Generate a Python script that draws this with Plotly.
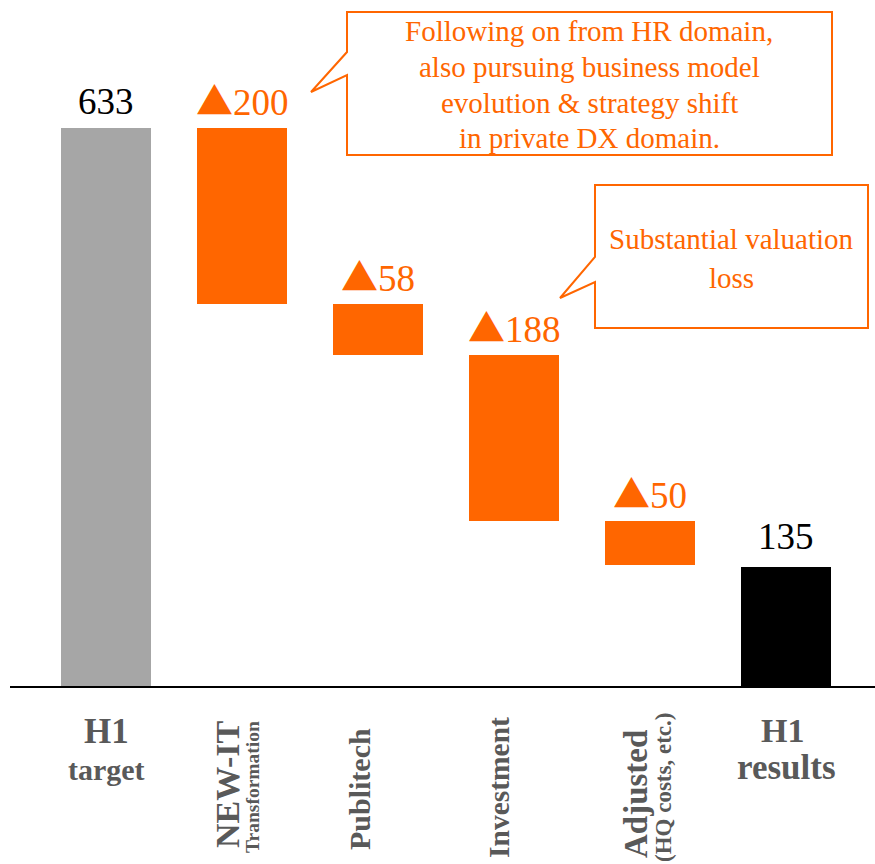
import plotly.graph_objects as go

# ---- data ----
categories = ["H1 target", "NEW-IT Transformation", "Publitech", "Investment",
              "Adjusted (HQ costs, etc.)", "H1 results"]
start_value = 633
deltas = [-200, -58, -188, -50]
end_value = 135
value_labels = ["633", "▲200", "▲58", "▲188", "▲50", "135"]
callout_lines = [
    ["Following on from HR domain,", "also pursuing business model",
     "evolution &amp; strategy shift", "in private DX domain."],
    ["Substantial valuation", "loss"],
]

# ---- derived waterfall geometry ----
bases, heights = [0], [start_value]
level = start_value
for d in deltas:
    level_new = level + d
    bases.append(level_new)
    heights.append(-d)
    level = level_new
bases.append(0)
heights.append(end_value)
tops = [b + h for b, h in zip(bases, heights)]

GRAY = "#A6A6A6"
ORANGE = "#FF6600"
BLACK = "#000000"
LABEL = "#595959"
SERIF = "Liberation Serif, Times New Roman, serif"
colors = [GRAY, ORANGE, ORANGE, ORANGE, ORANGE, BLACK]
label_colors = [BLACK, ORANGE, ORANGE, ORANGE, ORANGE, BLACK]
label_yshift = [4, 0, 0, 0, 0, 8]

W, H = 875, 864
L, R, T, B = 10, 0, 0, 178
plot_w, plot_h = W - L - R, H - T - B
px_per_unit = 558 / 633.0
y_max = plot_h / px_per_unit
x0 = -0.7059
x1 = x0 + plot_w / 136.0

xs = list(range(len(categories)))

fig = go.Figure()
fig.add_trace(go.Bar(
    x=xs, y=heights, base=bases, width=0.662,
    marker=dict(color=colors, line=dict(width=0)),
    hoverinfo="skip", showlegend=False,
))


def fmt_label(txt):
    if txt.startswith("▲"):
        return ("<span style=\"font-family:Noto Sans CJK JP\">▲</span>" + txt[1:])
    return txt


annotations = []
for i, (t, txt, c, ys) in enumerate(zip(tops, value_labels, label_colors, label_yshift)):
    annotations.append(dict(
        x=i, y=t, xref="x", yref="y", text=fmt_label(txt), showarrow=False,
        xanchor="center", yanchor="bottom", yshift=ys,
        font=dict(family=SERIF, size=37, color=c),
    ))


def px_x(px):
    return (px - L) / plot_w


def px_y(py):
    return (T + plot_h - py) / plot_h


# category labels (text, size, x-pixel center, y-pixel center, angle)
cat_specs = [
    [("<b>H1</b>", 35, 106, 731, 0), ("<b>target</b>", 30, 106, 770, 0)],
    [("<b>NEW-IT</b>", 34, 227, 784, -90), ("<b>Transformation</b>", 19.5, 252, 787, -90)],
    [("<b>Publitech</b>", 30, 359, 789, -90)],
    [("<b>Investment</b>", 29.5, 499, 788, -90)],
    [("<b>Adjusted</b>", 33, 636, 794, -90), ("<b>(HQ costs, etc.)</b>", 23, 664, 788, -90)],
    [("<b>H1</b>", 34, 782, 730, 0), ("<b>results</b>", 35, 786, 767, 0)],
]
for specs in cat_specs:
    for txt, size, cx, cy, ang in specs:
        annotations.append(dict(
            x=px_x(cx), y=px_y(cy), xref="paper", yref="paper", text=txt,
            showarrow=False, xanchor="center", yanchor="middle", textangle=ang,
            font=dict(family=SERIF, size=size, color=LABEL),
        ))


def callout_path(left, right, top, bottom, p_low, tip, p_high):
    pts = [(left, top), (right, top), (right, bottom), (left, bottom),
           (left, p_low), tip, (left, p_high)]
    s = "M " + " L ".join(f"{px_x(a):.5f},{px_y(b):.5f}" for a, b in pts) + " Z"
    return s


shapes = [
    dict(type="path", xref="paper", yref="paper",
         path=callout_path(347, 832, 12, 155, 75, (311, 92), 52),
         line=dict(color=ORANGE, width=2), fillcolor="white"),
    dict(type="path", xref="paper", yref="paper",
         path=callout_path(595, 868, 185, 328, 282, (560, 298), 257),
         line=dict(color=ORANGE, width=2), fillcolor="white"),
]

# callout text lines: (center x px, first line center y px, line spacing px, size)
callout_layout = [(589, 31, 35.8, 29), (731, 239, 38.5, 29)]
for lines, (cx, cy0, dy, size) in zip(callout_lines, callout_layout):
    for k, line in enumerate(lines):
        annotations.append(dict(
            x=px_x(cx), y=px_y(cy0 + k * dy), xref="paper", yref="paper", text=line,
            showarrow=False, xanchor="center", yanchor="middle",
            font=dict(family=SERIF, size=size, color=ORANGE),
        ))

fig.update_layout(
    width=W, height=H, margin=dict(l=L, r=R, t=T, b=B, pad=0),
    paper_bgcolor="white", plot_bgcolor="white",
    xaxis=dict(range=[x0, x1], showticklabels=False, showgrid=False, zeroline=False,
               showline=True, linecolor=BLACK, linewidth=2, ticks="", fixedrange=True),
    yaxis=dict(range=[0, y_max], visible=False, showgrid=False, zeroline=False,
               fixedrange=True),
    annotations=annotations, shapes=shapes, bargap=0,
)

fig.write_html("out.html")
